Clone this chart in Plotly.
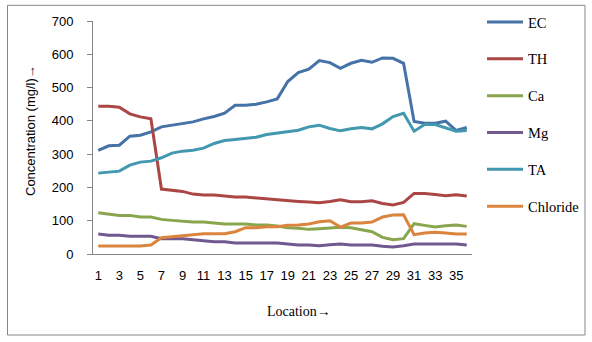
import plotly.graph_objects as go

locations = list(range(1, 37))
EC = [311, 325, 327, 354, 357, 367, 382, 387, 391, 397, 406, 413, 423, 447, 447, 450, 457, 466, 518, 545, 555,
      581, 575, 558, 573, 582, 576, 589, 588, 573, 398, 393, 393, 399, 371, 380]
TH = [444, 444, 441, 421, 412, 406, 195, 192, 188, 180, 177, 177, 174, 171, 171, 168, 165, 164, 161, 158, 156,
      154, 158, 163, 157, 157, 160, 152, 147, 155, 182, 182, 179, 175, 178, 174]
Ca = [124, 120, 116, 116, 111, 111, 104, 101, 98, 96, 96, 93, 90, 90, 90, 87, 87, 84, 79, 77, 74,
      76, 78, 80, 79, 73, 67, 50, 43, 46, 91, 86, 81, 85, 87, 83]
Mg = [60, 56, 56, 53, 53, 53, 46, 46, 46, 43, 39, 37, 37, 33, 33, 33, 33, 33, 30, 27, 27,
      25, 28, 30, 27, 27, 27, 23, 21, 25, 30, 30, 30, 30, 30, 27]
TA = [243, 245, 249, 267, 276, 279, 289, 303, 309, 312, 318, 332, 341, 344, 347, 351, 359, 363, 368, 372, 382,
      387, 377, 370, 376, 380, 376, 391, 413, 423, 369, 389, 389, 378, 369, 371]
Chloride = [24, 24, 24, 24, 24, 27, 49, 52, 55, 58, 61, 61, 61, 67, 79, 79, 82, 82, 86, 87, 90,
            97, 100, 81, 93, 93, 96, 111, 117, 118, 58, 63, 65, 63, 60, 60]

series = [("EC", EC, "#4572A7"), ("TH", TH, "#AA4643"), ("Ca", Ca, "#89A54E"),
          ("Mg", Mg, "#71588F"), ("TA", TA, "#4198AF"), ("Chloride", Chloride, "#DB843D")]
tick_vals = list(range(1, 37, 2))

W, H = 592, 342
L, R, T, B = 93, 472, 21, 254

def px(x):
    return (x - L) / (R - L)

def py(y):
    return (B - y) / (B - T)

fig = go.Figure()
for i, (name, vals, col) in enumerate(series):
    fig.add_trace(go.Scatter(x=locations, y=vals, mode="lines", name=name, legendgroup=str(i),
                             line=dict(color=col, width=3)))

axis_col = "#868686"
bx0, bx1, by0, by1 = px(7.5), px(585), py(335), py(5.3)
border = [
    dict(type="line", xref="paper", yref="paper", x0=bx0, x1=bx1, y0=by0, y1=by0),
    dict(type="line", xref="paper", yref="paper", x0=bx0, x1=bx1, y0=by1, y1=by1),
    dict(type="line", xref="paper", yref="paper", x0=bx0, x1=bx0, y0=by0, y1=by1),
    dict(type="line", xref="paper", yref="paper", x0=bx1, x1=bx1, y0=by0, y1=by1),
]
for s in border:
    s["line"] = dict(color=axis_col, width=1)
    s["layer"] = "above"

fig.update_layout(
    width=W, height=H,
    margin=dict(l=L, r=W - R, t=T, b=H - B, pad=0, autoexpand=False),
    paper_bgcolor="white", plot_bgcolor="white",
    showlegend=True,
    legend=dict(x=px(482), y=py(6), xanchor="left", yanchor="top", tracegroupgap=15,
                maxheight=1.0, itemwidth=36,
                font=dict(family="Liberation Serif", size=14.5, color="black"),
                bgcolor="rgba(0,0,0,0)"),
    xaxis=dict(range=[0.5, 36.5], tickmode="array", tickvals=tick_vals,
               ticktext=[str(v) for v in tick_vals], showgrid=False, zeroline=False,
               showline=True, linecolor=axis_col, linewidth=1, ticks="",
               ticklabelstandoff=9,
               tickfont=dict(family="Liberation Sans", size=13, color="black")),
    yaxis=dict(range=[0, 700], tickmode="array", tickvals=list(range(0, 701, 100)),
               showgrid=False, zeroline=False, showline=True, linecolor=axis_col, linewidth=1,
               ticks="outside", ticklen=5, tickcolor=axis_col, ticklabelstandoff=11,
               tickfont=dict(family="Liberation Sans", size=13, color="black")),
    shapes=border,
    annotations=[
        dict(text="Location→", xref="paper", yref="paper", x=px(299), y=py(311), showarrow=False,
             xanchor="center", yanchor="middle",
             font=dict(family="Liberation Serif", size=14, color="black")),
        dict(text="Concentration (mg/l)→", xref="paper", yref="paper", x=px(30), y=py(130), showarrow=False,
             xanchor="center", yanchor="middle", textangle=-90,
             font=dict(family="Liberation Sans", size=13, color="black")),
    ],
)

fig.write_html("out.html", config={"displayModeBar": False},
               post_script="document.body.style.margin='0';")
